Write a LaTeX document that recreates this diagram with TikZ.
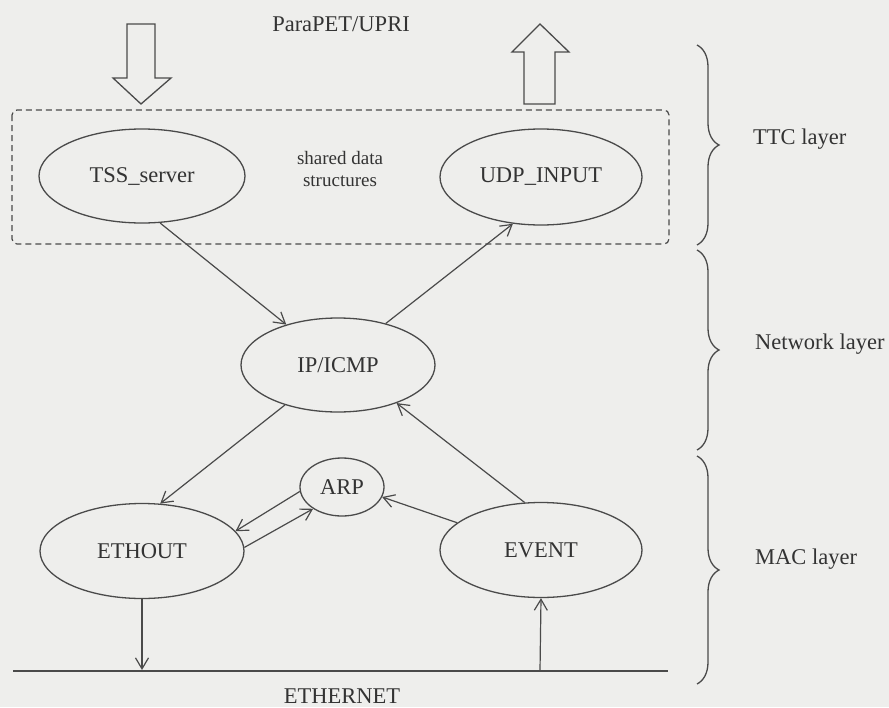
\documentclass[tikz,border=0pt]{standalone}
\usepackage{fontspec}
\setmainfont{Liberation Serif}
\usetikzlibrary{shapes.geometric,arrows.meta,decorations.pathreplacing}
\definecolor{paper}{HTML}{EEEEEC}
\definecolor{ink}{HTML}{4A4A4A}
\definecolor{txt}{HTML}{333333}
\begin{document}
\begin{tikzpicture}[x=1pt,y=-1pt,
  proc/.style={ellipse,draw=ink,line width=1.3pt,inner sep=0pt,text=txt,
    font=\fontsize{22.5}{26}\selectfont},
  flow/.style={draw=ink,line width=1.2pt,-{Straight Barb[length=11pt,width=13pt,line width=1.2pt]}},
  bigarrow/.style={draw=ink,line width=1.3pt,fill=paper,line join=miter},
  lbl/.style={text=txt,font=\fontsize{22.5}{26}\selectfont,inner sep=0pt},
  layerbrace/.style={draw=ink,line width=1.3pt,decorate,decoration={brace,amplitude=22pt}}]
% page
\fill[paper] (0,0) rectangle (889,707);
\useasboundingbox (0,0) rectangle (889,707);

% title and hollow arrows
\node[lbl] (title) at (341,24) {ParaPET/UPRI};
\draw[bigarrow] (127,24) -- (155,24) -- (155,78) -- (171,78) -- (141,104)
  -- (113,78) -- (127,78) -- cycle;
\draw[bigarrow] (524,104) -- (555,104) -- (555,52) -- (569,52) -- (540,24)
  -- (512,52) -- (524,52) -- cycle;

% shared data area
\draw[ink,line width=1.2pt,dash pattern=on 6pt off 4pt,rounded corners=5pt]
  (12,110) rectangle (669,244);
\node[text=txt,font=\fontsize{19}{22}\selectfont,align=center,inner sep=0pt]
  (shared) at (340,169) {shared data\\structures};

% processes
\node[proc,minimum width=206pt,minimum height=94pt] (tss) at (142,176) {TSS\_server};
\node[proc,minimum width=202pt,minimum height=96pt] (udp) at (541,177) {UDP\_INPUT};
\node[proc,minimum width=194pt,minimum height=94pt] (ip) at (338,365) {IP/ICMP};
\node[proc,minimum width=84pt,minimum height=58pt] (arp) at (342,487) {ARP};
\node[proc,minimum width=204pt,minimum height=95pt] (ethout) at (142,551) {ETHOUT};
\node[proc,minimum width=202pt,minimum height=95pt] (event) at (541,550) {EVENT};

% network medium
\coordinate (ethL) at (13,671);
\coordinate (ethR) at (668,671);
\draw[ink,line width=1.5pt] (ethL) -- (ethR);
\node[lbl] (ether) at (342,696) {ETHERNET};
\coordinate (txpt) at (142,670);
\coordinate (rxpt) at (540,671);

% message flows
\draw[flow] (tss.-69) -- (ip.142);
\draw[flow] (ip.41) -- (udp.239);
\draw[flow] (ip.217) -- (ethout.69);
\draw[flow] (event.109) -- (ip.-33);
\draw[flow] (event.162) -- (arp.-14);
\draw[flow] (arp.186) -- (ethout.12);
\draw[flow] (ethout.2) -- (arp.217);
\draw[flow] (ethout.south) -- (txpt);
\draw[flow] (rxpt) -- (event.south);

% layers
\draw[layerbrace] (697,45) -- (697,245);
\draw[layerbrace] (697,250) -- (697,450);
\draw[layerbrace] (697,456) -- (697,684);
\node[lbl,anchor=west] (ttc) at (753,139) {TTC layer};
\node[lbl,anchor=west] (net) at (755,344) {Network layer};
\node[lbl,anchor=west] (mac) at (755,559) {MAC layer};
\end{tikzpicture}
\end{document}
